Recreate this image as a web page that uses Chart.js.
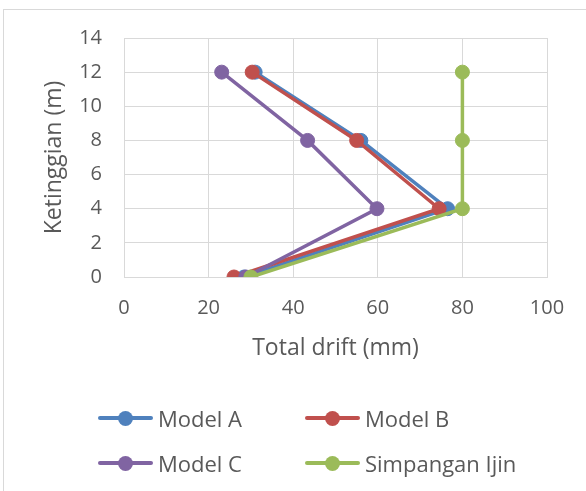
<!DOCTYPE html>
<html>
<head>
<meta charset="utf-8">
<script src="https://cdn.jsdelivr.net/npm/chart.js@4.4.1/dist/chart.umd.min.js"></script>
<style>
  html, body { margin: 0; padding: 0; background: #fff; overflow: hidden; }
  #wrap { position: relative; width: 586px; height: 491px; }
  #frame { position: absolute; left: 3px; top: 9px; width: 600px; height: 500px; border: 1px solid #d9d9d9; box-sizing: border-box; }
  #myChart { position: absolute; left: 0; top: 0; }
  .legend-item { position: absolute; display: flex; align-items: center; height: 30px; margin-top: -15px;
    font-family: "Open Sans", sans-serif; font-size: 22px; color: #595959; white-space: nowrap; }
  .legend-mark { position: relative; width: 55px; height: 30px; margin-right: 5px; }
  .legend-mark .ln { position: absolute; left: 0; right: 0; top: 13px; height: 4px; border-radius: 2px; }
  .legend-mark .dot { position: absolute; left: 20px; top: 7.5px; width: 15px; height: 15px; border-radius: 50%; }
</style>
</head>
<body>
<div id="wrap">
  <div id="frame"></div>
  <canvas id="myChart" width="586" height="491"></canvas>
  <div id="legend"></div>
</div>
<script>
// heights (m) and total drift (mm) per series
const heights = [0, 4, 8, 12];
const modelA = [28.4, 76.5, 56.0, 31.0];
const modelB = [26.0, 74.5, 55.0, 30.3];
const modelC = [28.8, 59.8, 43.4, 23.1];
const simpanganIjin = [30, 80, 80, 80];

const seriesNames = ['Model A', 'Model B', 'Model C', 'Simpangan Ijin'];
const seriesColors = ['#4f81bd', '#c0504d', '#8064a2', '#9bbb59'];
const seriesValues = [modelA, modelB, modelC, simpanganIjin];

const xTicks = [0, 20, 40, 60, 80, 100];
const yTicks = [0, 2, 4, 6, 8, 10, 12, 14];

const textColor = '#595959';
const gridColor = '#d9d9d9';

const toPoints = (vals) => vals.map((v, i) => ({x: v, y: heights[i]}));

const datasets = seriesValues.map((vals, i) => ({
    label: seriesNames[i],
    data: toPoints(vals),
    showLine: true,
    borderColor: seriesColors[i],
    backgroundColor: seriesColors[i],
    pointBackgroundColor: seriesColors[i],
    pointBorderColor: seriesColors[i],
    borderWidth: 3.5,
    pointRadius: 7,
    pointBorderWidth: 1,
    tension: 0,
    order: seriesValues.length - i   // later series on top, like Excel
}));

const config = {
    type: 'scatter',
    data: { datasets: datasets },
    options: {
        responsive: false,
        animation: false,
        devicePixelRatio: 1,
        events: [],
        layout: {
            padding: { left: 0, right: 39, top: 38, bottom: 114 }
        },
        plugins: {
            legend: { display: false },
            tooltip: { enabled: false }
        },
        scales: {
            x: {
                type: 'linear',
                min: 0,
                max: 100,
                afterBuildTicks: (scale) => { scale.ticks = xTicks.map(v => ({value: v})); },
                afterFit: (scale) => { scale.height = 100; },
                grid: { color: gridColor, lineWidth: 1, drawTicks: false },
                border: { display: true, color: gridColor, width: 1 },
                ticks: {
                    color: textColor,
                    padding: 19,
                    maxRotation: 0,
                    font: { family: 'Open Sans', size: 20 }
                },
                title: {
                    display: true,
                    text: 'Total drift (mm)',
                    color: textColor,
                    font: { family: 'Open Sans', size: 23 },
                    padding: { top: 0, bottom: 15 }
                }
            },
            y: {
                type: 'linear',
                min: 0,
                max: 14,
                afterBuildTicks: (scale) => { scale.ticks = yTicks.map(v => ({value: v})); },
                afterFit: (scale) => { scale.width = 124; },
                grid: { color: gridColor, lineWidth: 1, drawTicks: false },
                border: { display: true, color: gridColor, width: 1 },
                ticks: {
                    color: textColor,
                    padding: 22,
                    font: { family: 'Open Sans', size: 20 }
                },
                title: {
                    display: true,
                    text: 'Ketinggian (m)',
                    color: textColor,
                    font: { family: 'Open Sans', size: 23 },
                    padding: { top: 41, bottom: 0 }
                }
            }
        }
    }
};

const myChart = new Chart(document.getElementById('myChart'), config);

// legend laid out as 2 x 2 grid like the original
const legendPos = [
    {left: 98, top: 418},
    {left: 305, top: 418},
    {left: 98, top: 463},
    {left: 305, top: 463}
];
const legend = document.getElementById('legend');
myChart.data.datasets.forEach((ds, i) => {
    const item = document.createElement('div');
    item.className = 'legend-item';
    item.style.left = legendPos[i].left + 'px';
    item.style.top = legendPos[i].top + 'px';
    item.innerHTML = '<div class="legend-mark"><div class="ln" style="background:' + ds.borderColor +
        '"></div><div class="dot" style="background:' + ds.borderColor + '"></div></div><span>' + ds.label + '</span>';
    legend.appendChild(item);
});
</script>
</body>
</html>
